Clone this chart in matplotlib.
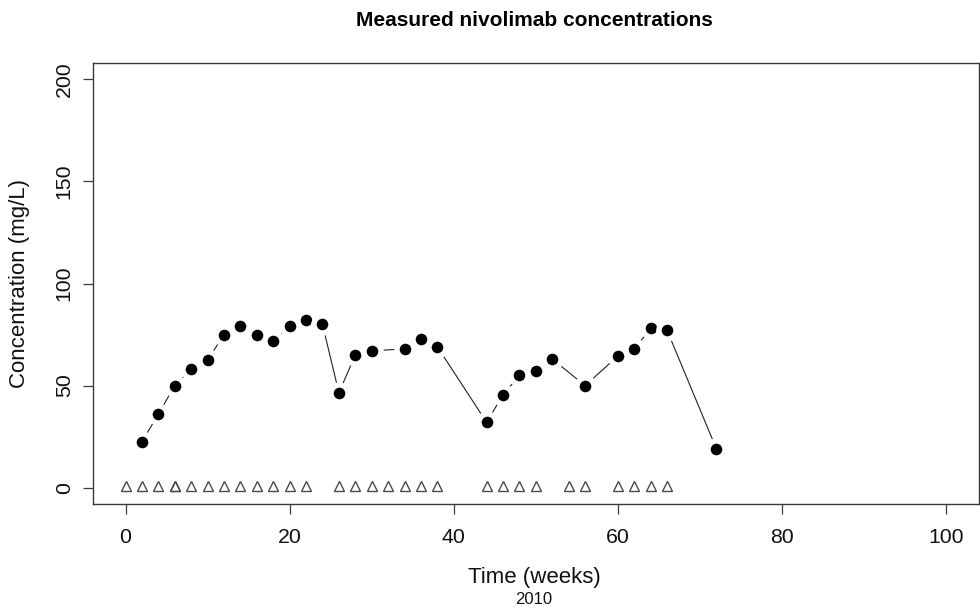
"""
Measured nivolimab concentrations — R-style base plot, redrawn in matplotlib.
"""

import matplotlib

matplotlib.use("Agg")
import matplotlib.pyplot as plt

# ── Data ──────────────────────────────────────────────────────
conc_weeks = [2, 4, 6, 8, 10, 12, 14, 16, 18, 20, 22, 24, 26, 28, 30, 34, 36, 38,
              44, 46, 48, 50, 52, 56, 60, 62, 64, 66, 72]
conc_values = [22.5, 36, 50, 58, 62.5, 75, 79, 75, 72, 79, 82, 80, 46.5, 65, 67, 68,
               73, 69, 32, 45.5, 55, 57, 63, 50, 64.5, 68, 78, 77, 19]

dose_weeks = [0, 2, 4, 6, 6, 8, 10, 12, 14, 16, 18, 20, 22, 26, 28, 30, 32, 34, 36,
              38, 44, 46, 48, 50, 54, 56, 60, 62, 64, 66]
dose_level = [1] * len(dose_weeks)

x_ticks = [0, 20, 40, 60, 80, 100]
y_ticks = [0, 50, 100, 150, 200]

# ── Styling ───────────────────────────────────────────────────
plt.rcParams.update(
    {
        "font.family": ["Liberation Sans", "DejaVu Sans"],
        "font.size": 15,
    }
)
AXIS_COLOR = "#3a3a3a"
TEXT_COLOR = "#111111"

W, H = 980, 607
fig = plt.figure(figsize=(W / 100, H / 100), dpi=100)
ax = fig.add_axes([92.7 / W, 1 - 504 / H, (979 - 92.7) / W, (504 - 63) / H])

# concentration series: line with gaps round the points (R type = "b")
ax.plot(
    conc_weeks,
    conc_values,
    color="#222222",
    linewidth=0.8,
    marker="o",
    markersize=12.3,
    markerfacecolor="black",
    markeredgecolor="white",
    markeredgewidth=3.9,
    zorder=3,
)

# dosing times
ax.plot(
    dose_weeks,
    dose_level,
    linestyle="none",
    marker="^",
    markersize=7.8,
    markerfacecolor="none",
    markeredgecolor="#4a4a4a",
    markeredgewidth=1.0,
    zorder=2,
)

ax.set_xlim(-4, 104)
ax.set_ylim(-8, 208)
ax.set_xticks(x_ticks)
ax.set_yticks(y_ticks)
ax.set_yticklabels([str(v) for v in y_ticks], rotation=90, va="center")

for s in ax.spines.values():
    s.set_color(AXIS_COLOR)
    s.set_linewidth(1.0)
ax.tick_params(
    direction="out", length=7.2, width=0.9, color=AXIS_COLOR,
    labelsize=15.3, labelcolor=TEXT_COLOR,
)
ax.tick_params(axis="x", pad=10)
ax.tick_params(axis="y", pad=6.5)

fig.text(534 / W, 1 - 21 / H, "Measured nivolimab concentrations",
         ha="center", va="center", fontsize=15, fontweight="bold")
fig.text(534 / W, 1 - 577 / H, "Time (weeks)", ha="center", va="center",
         fontsize=16, color=TEXT_COLOR)
fig.text(534 / W, 1 - 599 / H, "2010", ha="center", va="center",
         fontsize=12, color=TEXT_COLOR)
fig.text(20 / W, 1 - 283 / H, "Concentration (mg/L)", ha="center", va="center",
         rotation=90, fontsize=16, color=TEXT_COLOR)

fig.savefig("out.png", dpi=100, facecolor="white")
plt.close(fig)
